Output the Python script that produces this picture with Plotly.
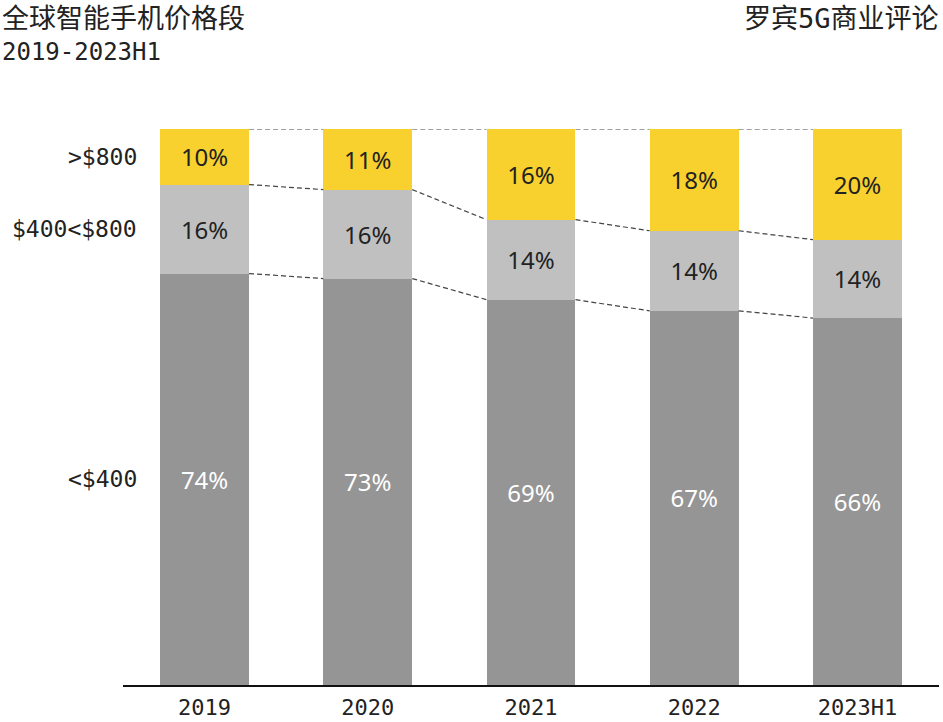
import plotly.graph_objects as go

categories = ["2019", "2020", "2021", "2022", "2023H1"]
low = [74.0, 73.1, 69.3, 67.3, 66.0]      # <$400
mid = [16.0, 16.0, 14.4, 14.4, 14.1]      # $400<$800
high = [10.0, 10.9, 16.3, 18.3, 19.9]     # >$800
series_names = ["<$400", "$400<$800", ">$800"]

colors = ["#959595", "#c0c0c0", "#f8d12e"]
text_colors = ["#ffffff", "#222222", "#222222"]
FONT = "DejaVu Sans Mono, Noto Sans CJK SC, sans-serif"
LABEL_FONT = "Noto Sans, DejaVu Sans, sans-serif"
BAR_W = 0.545

xs = list(range(len(categories)))
series = [low, mid, high]

fig = go.Figure()
for vals, name, c, tc in zip(series, series_names, colors, text_colors):
    fig.add_trace(go.Bar(
        x=xs, y=vals, name=name, width=BAR_W,
        marker=dict(color=c, line=dict(width=0)),
        text=[f"{round(v)}%" for v in vals],
        textposition="inside", insidetextanchor="middle", textangle=0,
        insidetextfont=dict(family=LABEL_FONT, size=24, color=tc),
        hoverinfo="skip",
    ))

# cumulative levels for connectors
cum = []
run = [0.0] * len(categories)
for vals in series:
    run = [r + v for r, v in zip(run, vals)]
    cum.append(list(run))

for level in cum:
    lx, ly = [], []
    for i in range(len(categories) - 1):
        lx += [xs[i] + BAR_W / 2, xs[i + 1] - BAR_W / 2, None]
        ly += [level[i], level[i + 1], None]
    fig.add_trace(go.Scatter(
        x=lx, y=ly, mode="lines",
        line=dict(color="#444444", width=1.2, dash="5px,3px"),
        hoverinfo="skip", showlegend=False,
    ))

# left category labels aligned with first bar segments
prev = 0.0
for vals, name in zip(series, series_names):
    fig.add_annotation(
        x=xs[0] - BAR_W / 2, y=prev + vals[0] / 2, xref="x", yref="y",
        text=name, showarrow=False, xanchor="right", yanchor="middle",
        xshift=-21, font=dict(family=FONT, size=23, color="#222222"),
    )
    prev += vals[0]

fig.add_annotation(x=0, y=1, xref="paper", yref="paper", xanchor="left", yanchor="middle",
                   xshift=-123, yshift=111, text="全球智能手机价格段",
                   showarrow=False, font=dict(family=FONT, size=27, color="#222222"))
fig.add_annotation(x=0, y=1, xref="paper", yref="paper", xanchor="left", yanchor="middle",
                   xshift=-123, yshift=77, text="2019-2023H1",
                   showarrow=False, font=dict(family=FONT, size=24, color="#222222"))
fig.add_annotation(x=1, y=1, xref="paper", yref="paper", xanchor="right", yanchor="middle",
                   xshift=2, yshift=111, text="罗宾5G商业评论",
                   showarrow=False, font=dict(family=FONT, size=27, color="#222222"))

fig.update_layout(
    barmode="stack",
    width=943, height=722,
    margin=dict(l=123, r=4, t=129, b=37, autoexpand=False),
    paper_bgcolor="white", plot_bgcolor="white",
    showlegend=False,
    xaxis=dict(tickmode="array", tickvals=xs, ticktext=categories, range=[-0.5, 4.5],
               showgrid=False, zeroline=False, showline=True, linecolor="#111111", linewidth=2,
               ticks="", ticklabelstandoff=2, automargin=False,
               tickfont=dict(family=FONT, size=22, color="#222222")),
    yaxis=dict(range=[0, 100], visible=False, showgrid=False, zeroline=False, automargin=False),
)

fig.write_html("out.html", config={"displayModeBar": False},
               post_script="document.body.style.margin='0';document.body.style.overflow='hidden';")
